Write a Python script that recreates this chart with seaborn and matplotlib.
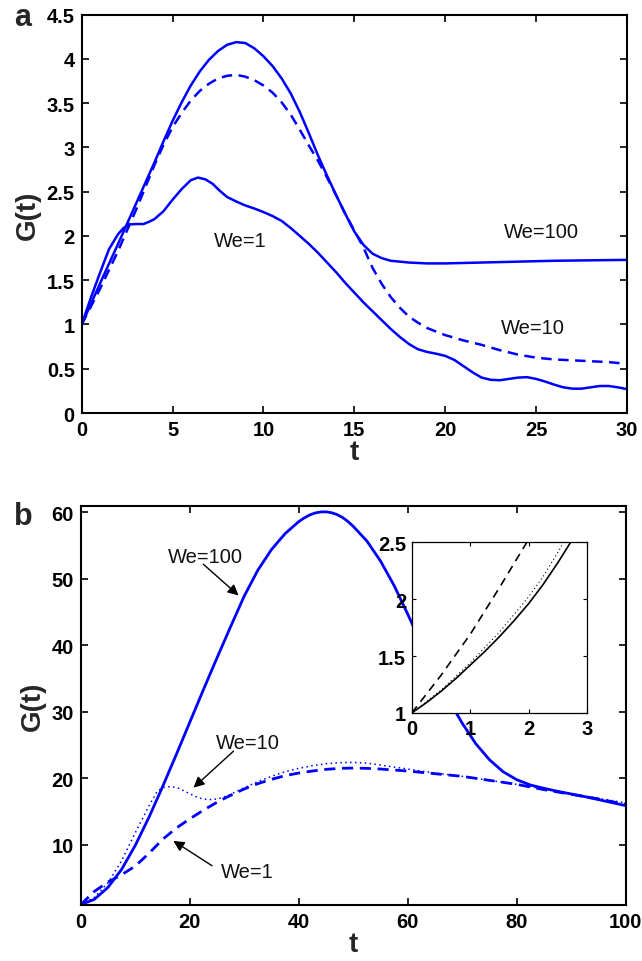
import matplotlib
matplotlib.use("Agg")
import matplotlib.pyplot as plt
import seaborn as sns
from matplotlib.ticker import FormatStrFormatter

# ---------------- panel (a): G(t) for t in [0, 30] ----------------
t_a_we100 = [0, 1, 2, 2.5, 3, 3.5, 4, 4.5, 5, 5.5, 6, 6.5, 7, 7.5, 8, 8.5, 9, 9.5,
             10, 10.5, 11, 11.5, 12, 12.5, 13, 13.5, 14, 14.5, 15, 15.5, 16, 16.5,
             17, 17.5, 18, 19, 20, 22, 24, 26, 28, 30]
g_a_we100 = [1.0, 1.46, 1.91, 2.14, 2.37, 2.60, 2.83, 3.07, 3.30, 3.51, 3.70, 3.86,
             3.99, 4.09, 4.16, 4.19, 4.18, 4.12, 4.03, 3.92, 3.78, 3.61, 3.40, 3.16,
             2.91, 2.68, 2.46, 2.25, 2.05, 1.90, 1.80, 1.75, 1.72, 1.71, 1.70, 1.69,
             1.69, 1.70, 1.71, 1.72, 1.725, 1.73]

t_a_we10 = [0, 1, 2, 3, 4, 4.5, 5, 5.5, 6, 6.5, 7, 7.5, 8, 8.5, 9, 9.5, 10, 10.5,
            11, 11.5, 12, 12.5, 13, 13.5, 14, 14.5, 15, 15.5, 16, 16.5, 17, 17.5,
            18, 18.5, 19, 20, 21, 22, 23, 24, 25, 26, 27, 28, 29, 30]
g_a_we10 = [1.0, 1.40, 1.83, 2.30, 2.80, 3.03, 3.23, 3.39, 3.53, 3.64, 3.72, 3.78,
            3.81, 3.82, 3.80, 3.76, 3.70, 3.62, 3.51, 3.37, 3.20, 3.02, 2.85, 2.66,
            2.46, 2.25, 2.06, 1.87, 1.64, 1.46, 1.31, 1.19, 1.09, 1.02, 0.96, 0.88,
            0.82, 0.77, 0.71, 0.66, 0.625, 0.605, 0.595, 0.585, 0.575, 0.555]

t_a_we1 = [0, 0.5, 1, 1.5, 2, 2.3, 2.6, 3, 3.4, 3.7, 4, 4.5, 5, 5.5, 6, 6.4, 6.8,
           7.2, 7.6, 8, 8.5, 9, 9.5, 10, 10.5, 11, 11.5, 12, 12.5, 13, 13.5, 14,
           14.5, 15, 15.5, 16, 16.5, 17, 17.5, 18, 18.5, 19, 19.5, 20, 20.5, 21,
           21.5, 22, 22.5, 23, 23.5, 24, 24.5, 25, 25.5, 26, 26.5, 27, 27.5, 28,
           28.5, 29, 29.5, 30]
g_a_we1 = [1.0, 1.30, 1.58, 1.85, 2.02, 2.09, 2.13, 2.135, 2.135, 2.16, 2.19, 2.28,
           2.41, 2.53, 2.63, 2.66, 2.64, 2.59, 2.51, 2.44, 2.39, 2.345, 2.31, 2.27,
           2.225, 2.17, 2.09, 2.00, 1.91, 1.81, 1.70, 1.59, 1.47, 1.36, 1.25, 1.15,
           1.05, 0.95, 0.86, 0.78, 0.72, 0.69, 0.67, 0.645, 0.60, 0.53, 0.46, 0.40,
           0.375, 0.37, 0.385, 0.40, 0.405, 0.385, 0.355, 0.32, 0.29, 0.275, 0.275,
           0.29, 0.305, 0.305, 0.29, 0.27]

# ---------------- panel (b): G(t) for t in [0, 100] ----------------
t_b_we100 = [0, 2.5, 5, 7.5, 10, 12.5, 15, 17.5, 20, 22.5, 25, 27.5, 30, 32.5, 35,
             37.5, 40, 41, 42, 43, 44, 45, 46, 47, 48, 49, 50, 52.5, 55, 57.5, 60,
             62.5, 65, 67.5, 70, 72.5, 75, 77.5, 80, 82.5, 85, 87.5, 90, 92.5, 95,
             97.5, 100]
g_b_we100 = [1.0, 1.8, 3.6, 6.3, 9.9, 14.1, 18.7, 23.5, 28.4, 33.3, 38.1, 42.8,
             47.4, 51.3, 54.4, 56.8, 58.6, 59.15, 59.6, 59.9, 60.06, 60.08, 59.95,
             59.68, 59.25, 58.65, 57.9, 55.7, 52.7, 49.0, 44.7, 40.2, 35.8, 31.8,
             28.3, 25.2, 22.8, 21.0, 19.8, 19.0, 18.5, 18.05, 17.65, 17.25, 16.8,
             16.35, 15.9]

t_b_we10 = [0, 2.5, 5, 7.5, 10, 12.5, 14, 15, 16, 17, 18, 19, 20, 21, 22, 23, 24,
            25, 26, 27.5, 30, 32.5, 35, 37.5, 40, 42.5, 45, 47.5, 50, 52.5, 55, 57.5,
            60, 65, 70, 75, 80, 85, 90, 95, 100]
g_b_we10 = [1.0, 2.1, 4.3, 7.6, 11.8, 15.8, 18.0, 18.6, 18.75, 18.7, 18.5, 18.1,
            17.7, 17.3, 17.0, 16.85, 16.8, 16.9, 17.1, 17.6, 18.6, 19.5, 20.3, 21.0,
            21.5, 21.9, 22.2, 22.35, 22.4, 22.3, 22.0, 21.7, 21.4, 20.8, 20.3, 19.7,
            19.1, 18.4, 17.7, 17.0, 16.3]

t_b_we1 = [0, 2.5, 5, 7.5, 10, 12.5, 15, 17.5, 20, 22.5, 25, 27.5, 30, 32.5, 35,
           37.5, 40, 42.5, 45, 47.5, 50, 52.5, 55, 57.5, 60, 65, 70, 75, 80, 85, 90,
           95, 100]
g_b_we1 = [1.0, 3.0, 4.4, 5.5, 6.8, 8.7, 10.8, 12.5, 13.9, 15.2, 16.4, 17.45, 18.4,
           19.2, 19.85, 20.4, 20.8, 21.1, 21.35, 21.5, 21.55, 21.5, 21.4, 21.25, 21.1,
           20.7, 20.3, 19.7, 19.1, 18.3, 17.6, 16.9, 16.1]

# ---------------- inset of panel (b): early times ----------------
t_in_solid = [0, 0.25, 0.5, 0.75, 1, 1.25, 1.5, 1.75, 2, 2.25, 2.5, 2.72]
g_in_solid = [1.0, 1.09, 1.19, 1.30, 1.42, 1.54, 1.67, 1.81, 1.96, 2.13, 2.32, 2.5]
t_in_dotted = [0, 0.5, 1, 1.5, 2, 2.25, 2.5, 2.6]
g_in_dotted = [1.0, 1.20, 1.44, 1.71, 2.02, 2.20, 2.41, 2.5]
t_in_dashed = [0, 0.5, 1, 1.5, 1.97]
g_in_dashed = [1.0, 1.33, 1.69, 2.10, 2.5]

# text labels
labels_a = [("We=1", 8.7, 1.89), ("We=100", 25.3, 1.987), ("We=10", 24.8, 0.905)]
labels_b = [("We=100", 22.97, 52.46, (22.5, 52.2), (28.97, 47.5)),
            ("We=10", 30.75, 24.63, (28.05, 24.1), (20.7, 18.6)),
            ("We=1", 30.6, 5.11, (24.1, 6.86), (17.0, 10.6))]

sns.set_theme(style="ticks")
plt.rcParams["font.family"] = ["Liberation Sans", "DejaVu Sans"]
plt.rcParams["axes.linewidth"] = 1.5
plt.rcParams["lines.solid_capstyle"] = "butt"

BLUE = "#0000ff"
TICK_FS = 14.5
LABEL_FS = 20
W, H = 642, 962
fig = plt.figure(figsize=(W / 100, H / 100), dpi=100)


def px_axes(left, top, right, bottom):
    return fig.add_axes([left / W, 1 - bottom / H, (right - left) / W, (bottom - top) / H])


def style_axes(ax, fs=TICK_FS, length=5, width=1.2, pad=5):
    ax.tick_params(direction="in", top=True, right=True, length=length, width=width,
                   labelsize=fs, colors="black", pad=pad)
    for lab in ax.get_xticklabels() + ax.get_yticklabels():
        lab.set_fontweight("bold")
    for s in ax.spines.values():
        s.set_color("black")


def draw(ax, t, g, color=BLUE, lw=1.8, dashes=None):
    sns.lineplot(x=t, y=g, ax=ax, color=color, lw=lw, estimator=None, sort=False)
    line = ax.lines[-1]
    if dashes is not None:
        line.set_dashes(dashes)
    return line


# ---------- panel a ----------
ax_a = px_axes(81.7, 15.7, 627, 414)
draw(ax_a, t_a_we100, g_a_we100)
draw(ax_a, t_a_we10, g_a_we10, dashes=(4.2, 2.6))
draw(ax_a, t_a_we1, g_a_we1)
ax_a.set_xlim(0, 30)
ax_a.set_ylim(0, 4.5)
ax_a.set_xticks(range(0, 31, 5))
ax_a.set_yticks([0, 0.5, 1, 1.5, 2, 2.5, 3, 3.5, 4, 4.5])
ax_a.yaxis.set_major_formatter(FormatStrFormatter("%g"))
style_axes(ax_a)
ax_a.set_xlabel("t", fontsize=LABEL_FS, fontweight="bold", labelpad=0)
ax_a.set_ylabel("G(t)", fontsize=LABEL_FS, fontweight="bold", labelpad=4)
for txt, x, y in labels_a:
    ax_a.text(x, y, txt, fontsize=14.5, ha="center", va="baseline", color="#111111")

# ---------- panel b ----------
ax_b = px_axes(80.7, 506.7, 625.7, 905.7)
draw(ax_b, t_b_we100, g_b_we100, lw=2.0)
draw(ax_b, t_b_we10, g_b_we10, lw=1.1, dashes=(1.0, 2.2))
draw(ax_b, t_b_we1, g_b_we1, lw=2.0, dashes=(4.0, 2.4))
ax_b.set_xlim(0, 100)
ax_b.set_ylim(1, 61)
ax_b.set_xticks(range(0, 101, 20))
ax_b.set_yticks(range(10, 61, 10))
style_axes(ax_b)
ax_b.set_xlabel("t", fontsize=LABEL_FS, fontweight="bold", labelpad=0)
ax_b.set_ylabel("G(t)", fontsize=LABEL_FS, fontweight="bold", labelpad=4)
for txt, x, y, tail, tip in labels_b:
    ax_b.text(x, y, txt, fontsize=14.5, ha="center", va="baseline", color="#111111")
    ax_b.annotate("", xy=tip, xytext=tail,
                  arrowprops=dict(arrowstyle="-|>", color="black", lw=1.0,
                                  mutation_scale=16, shrinkA=0, shrinkB=0))

# ---------- inset ----------
ax_in = px_axes(411.7, 543.3, 587, 714)
ax_in.set_facecolor("white")
draw(ax_in, t_in_solid, g_in_solid, color="black", lw=1.2)
draw(ax_in, t_in_dotted, g_in_dotted, color="black", lw=0.8, dashes=(1.0, 2.5))
draw(ax_in, t_in_dashed, g_in_dashed, color="black", lw=1.2, dashes=(5.0, 3.5))
ax_in.set_xlim(0, 3)
ax_in.set_ylim(1, 2.5)
ax_in.set_xticks([0, 1, 2, 3])
ax_in.set_yticks([1, 1.5, 2, 2.5])
ax_in.yaxis.set_major_formatter(FormatStrFormatter("%g"))
for s in ax_in.spines.values():
    s.set_linewidth(0.9)
style_axes(ax_in, length=3, width=0.8, pad=4)

# panel letters
fig.text(14 / W, 1 - 26 / H, "a", fontsize=22, fontweight="bold", ha="left", va="baseline")
fig.text(14 / W, 1 - 525 / H, "b", fontsize=22, fontweight="bold", ha="left", va="baseline")

fig.savefig("out.png", dpi=100, facecolor="white")
